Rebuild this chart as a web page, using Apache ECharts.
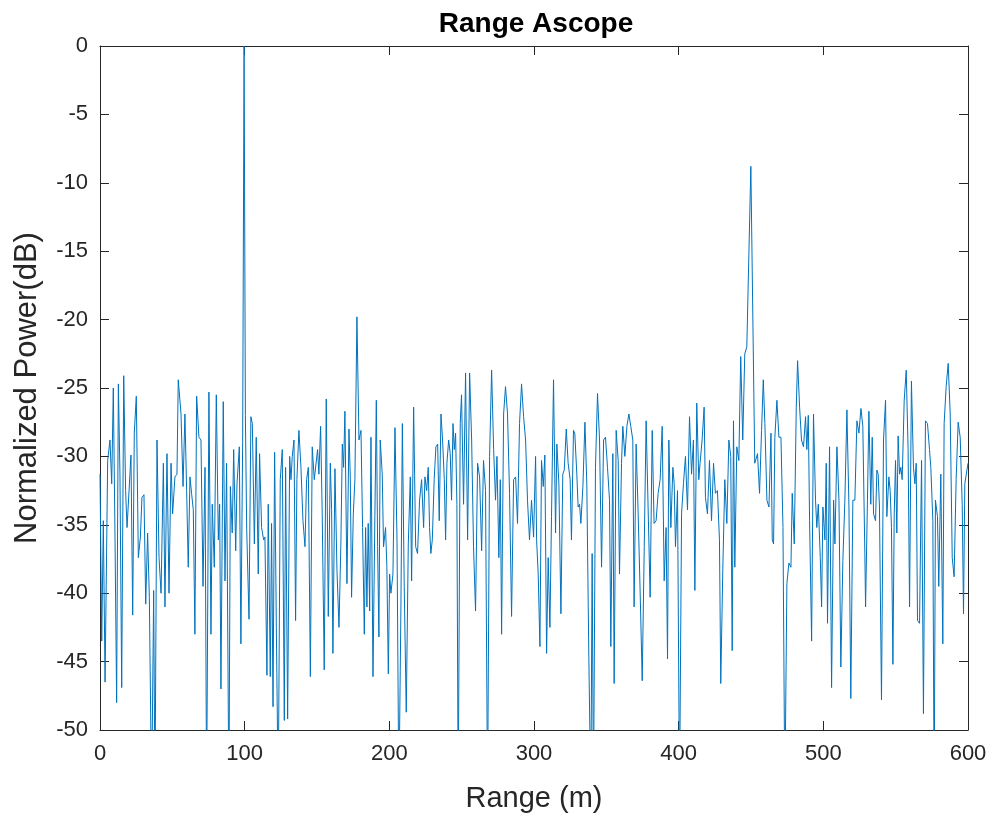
<!DOCTYPE html>
<html>
<head>
<meta charset="utf-8">
<script src="https://cdn.jsdelivr.net/npm/echarts@6/dist/echarts.min.js"></script>
<style>
  html, body { margin: 0; padding: 0; background: #ffffff; }
  #chart { width: 993px; height: 821px; }
</style>
</head>
<body>
<div id="chart"></div>
<script>
const chartTitle = 'Range Ascope';
const xAxisName = 'Range (m)';
const yAxisName = 'Normalized Power(dB)';
const xTicks = [0, 100, 200, 300, 400, 500, 600];
const yTicks = [-50, -45, -40, -35, -30, -25, -20, -15, -10, -5, 0];

const rangeM = [
  0,1.2,2.3,3.5,5.3,6.9,8.1,9.2,10.4,11.5,12.7,13.8,15.0,16.4,17.7,18.7,20.0,21.4,22.6,23.7,25.1,26.5,27.9,29.0,30.4,31.6,32.9,34.1,35.7,37.1,38.0,39.4,40.8,42.2,43.8,44.9,46.3,47.7,49.1,50.2,51.8,53.2,54.1,56.0,57.4,58.7,59.9,61.0,62.2,63.3,64.5,65.6,66.8,68.4,69.8,71.2,72.6,
  73.7,75.3,76.7,77.6,79.0,80.4,81.8,82.7,83.6,85.2,86.4,87.5,89.1,90.1,91.4,92.4,93.8,94.7,96.3,97.4,98.6,99.6,100.5,101.4,103.0,104.3,105.3,106.7,108.0,109.4,110.3,111.7,113.1,114.0,115.4,116.3,117.7,118.6,119.6,120.7,121.9,123.2,124.6,126.0,127.4,128.3,129.7,131.1,132.0,132.9,134.1,135.2,136.1,137.5,138.9,140.3,141.7,142.8,144.0,145.4,146.7,148.1,
  150.4,151.3,152.5,153.6,155.0,156.4,157.8,159.2,160.1,161.0,162.4,163.8,165.2,166.5,167.5,168.4,169.3,170.7,172.1,173.0,173.9,175.1,176.2,177.6,179.0,180.4,181.5,182.7,183.6,184.5,185.4,186.4,187.3,188.7,190.0,191.0,191.9,192.8,193.7,195.1,196.0,197.4,198.3,199.3,200.2,201.1,202.5,203.9,205.3,206.6,208.0,209.0,210.3,211.7,213.1,214.5,215.4,216.8,218.2,219.5,220.9,222.3,223.7,
  224.6,225.8,226.9,227.8,228.7,229.7,231.0,232.2,233.4,234.5,235.7,236.8,238.0,238.9,239.8,241.0,242.1,243.0,244.0,244.9,245.8,246.7,247.6,249.0,249.9,251.3,252.7,254.1,255.5,256.9,258.2,259.6,261.0,262.4,263.8,265.1,266.5,267.9,269.3,270.7,272.1,273.4,274.4,275.7,276.7,277.6,279.0,280.3,281.7,283.1,284.5,285.9,287.3,288.6,290.0,291.4,292.8,294.2,295.5,296.9,298.3,299.7,301.1,
  301.8,302.9,304.1,305.2,306.4,307.5,308.7,309.8,311.0,312.1,313.5,314.9,315.8,317.2,318.6,319.9,320.9,322.3,323.6,325.0,325.9,327.3,328.2,329.6,330.5,331.5,332.4,333.8,335.2,336.5,337.9,339.3,340.2,341.1,342.5,343.9,345.3,346.7,348.1,349.4,350.8,352.2,353.1,354.5,355.4,356.8,358.2,359.1,360.5,361.4,362.8,364.2,365.6,366.9,368.3,369.2,370.6,372.0,373.4,374.8,376.2,377.5,
  380.3,381.7,383.0,384.4,385.8,387.2,388.6,390.0,391.3,392.3,393.2,394.6,396.0,396.9,397.8,399.2,400.6,402.0,403.3,404.7,406.1,407.5,408.9,410.2,411.2,412.5,413.9,414.8,416.2,417.6,418.5,419.9,421.3,422.7,424.1,425.4,426.8,428.2,429.1,430.5,431.9,433.3,434.7,436.0,437.0,437.9,438.8,440.2,441.6,442.9,444.3,445.7,447.1,449.9,452.6,
  454.5,455.9,457.3,458.5,459.6,461.0,462.4,463.8,464.7,465.6,466.5,467.9,469.3,470.7,472.1,473.4,474.8,476.2,477.6,478.5,479.9,481.3,482.2,483.6,484.9,486.3,487.7,488.6,489.6,490.5,491.9,493.2,494.6,495.5,496.5,497.9,498.8,499.7,501.1,502.0,502.9,504.3,505.7,507.1,508.0,509.4,510.8,512.1,513.5,514.9,516.3,517.7,519.0,520.4,521.8,523.2,524.6,526.0,527.3,528.7,
  529.2,530.5,531.5,532.8,533.8,534.7,536.1,537.0,537.9,538.8,540.2,541.6,543.0,543.9,545.3,546.2,547.1,548.1,549.0,549.9,550.8,551.7,552.7,553.6,554.5,555.9,557.3,558.6,559.6,560.9,562.3,563.3,564.2,565.1,566.5,567.9,569.2,570.6,572.0,573.4,574.3,575.7,576.6,577.5,578.9,579.8,581.2,582.6,583.5,584.9,586.3,587.7,589.1,590.4,591.8,593.2,594.6,596.0,596.9,597.8,600.0
];

const powerDb = [
  -31.3,-43.5,-34.7,-46.5,-30.3,-28.8,-32.0,-25.0,-36.1,-48.0,-24.7,-31.3,-46.9,-24.1,-32.5,-35.2,-35.3,-29.9,-41.6,-28.3,-25.6,-37.4,-35.9,-33.0,-32.8,-40.8,-35.6,-40.3,-55,-39.8,-55,-28.8,-37.4,-40.0,-30.5,-41.0,-29.8,-40.0,-30.5,-34.2,-31.5,-31.3,-24.4,-26.9,-32.2,-26.9,-32.5,-38.1,-31.5,-32.7,-33.9,-43.0,-25.6,-28.6,-28.8,-39.5,-30.8,
  -55,-25.3,-43.0,-33.5,-38.1,-25.5,-36.1,-33.5,-47.0,-26.0,-39.1,-30.5,-55,-32.2,-35.6,-29.5,-36.9,-32.0,-29.3,-43.7,-29.0,0,-27.0,-35.3,-41.9,-27.1,-27.6,-36.4,-28.6,-38.6,-29.8,-35.2,-36.1,-35.9,-46.0,-33.5,-46.1,-34.9,-48.3,-29.7,-42.5,-55,-31.7,-29.5,-49.3,-30.8,-49.2,-30.0,-31.7,-30.0,-28.8,-42.0,-31.7,-28.1,-30.8,-34.7,-36.6,-31.7,-30.8,-46.1,-29.3,-31.7,
  -29.5,-31.3,-27.8,-34.2,-45.6,-25.8,-41.7,-30.5,-33.9,-44.4,-30.9,-38.3,-42.5,-36.4,-29.1,-30.8,-26.7,-39.3,-28.0,-31.5,-40.3,-34.2,-31.7,-19.8,-28.8,-28.1,-35.2,-43.0,-35.2,-41.0,-34.9,-41.3,-28.6,-46.1,-34.4,-25.9,-36.6,-43.2,-28.8,-31.3,-36.6,-35.2,-38.1,-45.9,-38.6,-40.0,-38.6,-27.9,-36.1,-55,-41.0,-27.6,-39.5,-48.7,-36.4,-31.5,-39.1,-26.4,-36.6,-37.1,-33.2,-31.7,-35.2,
  -31.5,-32.5,-30.8,-35.2,-37.1,-36.1,-31.7,-29.3,-29.1,-34.7,-26.9,-28.8,-31.7,-36.1,-30.5,-28.8,-29.8,-33.2,-27.6,-29.5,-28.3,-33.5,-55,-27.6,-25.5,-33.5,-23.9,-36.1,-23.9,-28.8,-36.6,-41.3,-30.5,-31.5,-36.9,-30.3,-32.5,-55,-30.0,-23.7,-29.5,-33.2,-30.0,-37.4,-31.7,-43.0,-26.9,-24.9,-26.9,-32.7,-41.7,-31.7,-31.5,-34.9,-27.6,-24.7,-27.1,-28.8,-33.2,-36.1,-33.2,-35.9,-30.0,
  -36.1,-38.6,-43.9,-30.3,-32.2,-29.9,-44.4,-37.4,-42.5,-34.4,-24.4,-35.6,-29.1,-32.0,-41.5,-31.3,-31.0,-28.0,-30.5,-31.7,-36.1,-28.1,-28.3,-31.3,-33.7,-33.5,-34.9,-32.2,-27.5,-32.0,-44.7,-55,-37.1,-55,-30.8,-25.4,-28.8,-38.1,-28.8,-28.6,-30.8,-33.2,-43.9,-29.8,-46.6,-28.1,-30.3,-38.6,-30.5,-27.8,-30.0,-27.8,-26.9,-27.8,-28.8,-41.0,-29.1,-34.2,-40.0,-46.4,-36.6,-27.4,
  -40.3,-28.1,-34.9,-34.7,-32.7,-31.7,-27.8,-39.1,-35.2,-44.8,-28.8,-35.2,-30.8,-32.0,-36.6,-32.5,-55,-34.2,-32.0,-30.0,-33.9,-27.1,-31.3,-28.8,-39.8,-26.1,-31.7,-30.5,-28.8,-26.4,-33.0,-34.2,-30.3,-34.7,-30.5,-32.7,-32.5,-36.1,-46.6,-38.3,-31.7,-34.9,-28.8,-30.0,-44.2,-27.4,-38.1,-29.3,-30.3,-22.7,-28.8,-22.5,-22.0,-8.8,-30.5,
  -29.8,-32.7,-28.1,-24.4,-27.6,-33.2,-33.7,-28.3,-36.1,-36.4,-28.6,-25.9,-28.6,-28.6,-35.2,-55,-39.3,-37.8,-38.1,-32.7,-36.4,-26.4,-23.0,-26.4,-28.8,-29.3,-27.1,-29.5,-27.0,-34.7,-43.5,-26.9,-33.2,-35.2,-33.5,-37.4,-41.0,-33.7,-36.1,-30.5,-42.2,-29.3,-46.9,-33.2,-36.4,-29.3,-33.2,-45.4,-37.6,-33.2,-26.6,-33.7,-47.7,-33.2,-33.2,-27.4,-28.3,-26.5,-27.8,-37.1,
  -41.0,-33.2,-26.7,-33.5,-28.6,-34.2,-34.7,-31.0,-31.3,-33.7,-47.8,-28.8,-25.9,-34.4,-31.5,-32.5,-35.2,-45.2,-34.2,-30.3,-35.6,-28.5,-31.3,-30.8,-31.7,-25.9,-23.7,-29.5,-41.0,-24.5,-30.8,-32.0,-30.5,-42.0,-42.2,-30.3,-48.8,-27.4,-27.6,-29.5,-30.8,-34.7,-55,-33.2,-34.4,-39.5,-31.3,-43.7,-27.6,-24.9,-23.2,-26.9,-37.4,-38.8,-31.7,-27.5,-28.6,-33.5,-41.5,-32.0,-30.5
];

if (rangeM.length !== powerDb.length) {
  throw new Error('length mismatch ' + rangeM.length + ' vs ' + powerDb.length);
}

const seriesData = rangeM.map((m, i) => [m, powerDb[i]]);

const FONT = '"Liberation Sans", Arial, Helvetica, sans-serif';
const AXIS_COLOR = '#262626';

const chart = echarts.init(document.getElementById('chart'), null, { renderer: 'canvas' });

const xMin = xTicks[0], xMax = xTicks[xTicks.length - 1], xStep = xTicks[1] - xTicks[0];
const yMin = yTicks[0], yMax = yTicks[yTicks.length - 1], yStep = yTicks[1] - yTicks[0];

function baseAxis(extra) {
  return Object.assign({
    type: 'value',
    axisLine: { show: true, onZero: false, lineStyle: { color: AXIS_COLOR, width: 1 } },
    axisTick: { show: true, inside: true, length: 9, lineStyle: { color: AXIS_COLOR, width: 1 } },
    splitLine: { show: false },
    axisLabel: { show: false }
  }, extra);
}

chart.setOption({
  animation: false,
  backgroundColor: '#ffffff',
  title: {
    text: chartTitle,
    left: 531,
    top: 5,
    textAlign: 'center',
    textStyle: { fontFamily: FONT, fontSize: 28, fontWeight: 'bold', color: '#000000' }
  },
  grid: { left: 100, right: 25, top: 46, bottom: 91, containLabel: false },
  xAxis: [
    baseAxis({
      position: 'bottom', min: xMin, max: xMax, interval: xStep,
      name: xAxisName, nameLocation: 'middle', nameGap: 54,
      nameTextStyle: { fontFamily: FONT, fontSize: 29, color: AXIS_COLOR },
      axisLabel: { show: true, margin: 13, fontFamily: FONT, fontSize: 22, color: AXIS_COLOR }
    }),
    baseAxis({ position: 'top', min: xMin, max: xMax, interval: xStep })
  ],
  yAxis: [
    baseAxis({
      position: 'left', min: yMin, max: yMax, interval: yStep,
      name: yAxisName, nameLocation: 'middle', nameGap: 57, nameRotate: 90,
      nameTextStyle: { fontFamily: FONT, fontSize: 31, color: AXIS_COLOR },
      axisLabel: { show: true, margin: 12, fontFamily: FONT, fontSize: 22, color: AXIS_COLOR }
    }),
    baseAxis({ position: 'right', min: yMin, max: yMax, interval: yStep })
  ],
  series: [{
    type: 'line',
    xAxisIndex: 0,
    yAxisIndex: 0,
    data: seriesData,
    showSymbol: false,
    clip: true,
    lineStyle: { color: '#0072BD', width: 1 },
    itemStyle: { color: '#0072BD' }
  }]
});
</script>
</body>
</html>
